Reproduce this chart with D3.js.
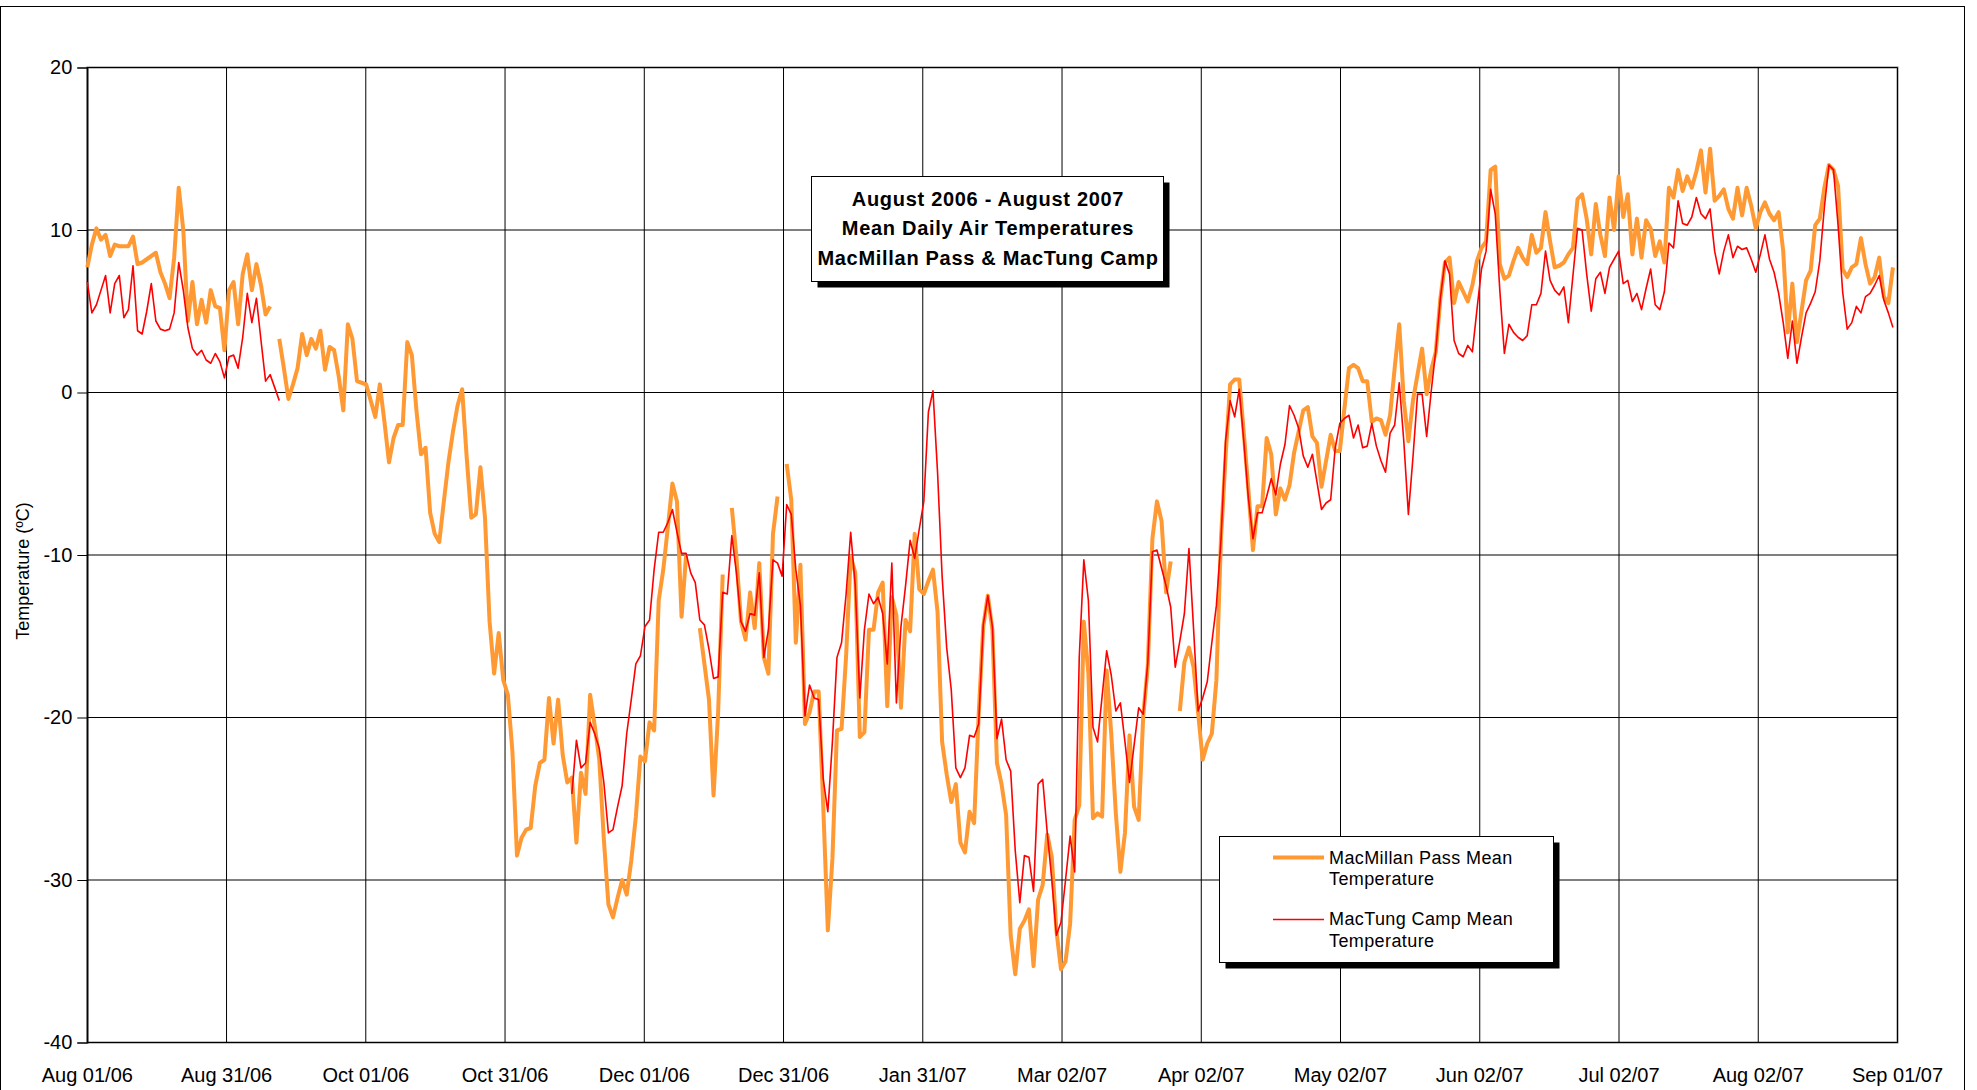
<!DOCTYPE html>
<html>
<head>
<meta charset="utf-8">
<title>August 2006 - August 2007 Mean Daily Air Temperatures</title>
<script src="https://d3js.org/d3.v7.min.js"></script>
<style>
  body { margin: 0; background: #fff; }
  svg { display: block; font-family: "Liberation Sans", Arial, sans-serif; }
  .grid line { stroke: #000; stroke-width: 1; }
  .tick-label { font-size: 20px; fill: #000; }
</style>
</head>
<body>
<div id="chart"></div>
<script>
// daily means, first value is Aug 01 2006, null = no record
const startDate = Date.UTC(2006, 7, 1);
const endDate = Date.UTC(2007, 8, 1);

const xTickLabels = ["Aug 01/06", "Aug 31/06", "Oct 01/06", "Oct 31/06", "Dec 01/06", "Dec 31/06",
  "Jan 31/07", "Mar 02/07", "Apr 02/07", "May 02/07", "Jun 02/07", "Jul 02/07", "Aug 02/07", "Sep 01/07"];
const yTicks = [20, 10, 0, -10, -20, -30, -40];
const titleLines = ["August 2006 - August 2007", "Mean Daily Air Temperatures", "MacMillan Pass & MacTung Camp"];
const seriesNames = [["MacMillan Pass Mean", "Temperature"], ["MacTung Camp Mean", "Temperature"]];

const macMillanPass = [
  7.7, 9.1, 10.1, 9.4, 9.7, 8.4, 9.1, 9.0, 9.0, 9.0,
  9.6, 7.9, 8.0, 8.2, 8.4, 8.6, 7.4, 6.7, 5.8, 8.3,
  12.6, 10.0, 4.4, 6.8, 4.2, 5.7, 4.3, 6.3, 5.3, 5.2,
  2.6, 6.3, 6.8, 4.2, 7.3, 8.5, 6.3, 7.9, 6.6, 4.8,
  5.3, null, 3.3, 1.5, -0.4, 0.5, 1.5, 3.6, 2.3, 3.3,
  2.7, 3.8, 1.4, 2.8, 2.6, 1.0, -1.1, 4.2, 3.3, 0.7,
  0.6, 0.5, -0.5, -1.5, 0.5, -1.8, -4.3, -2.8, -2.0, -2.0,
  3.1, 2.3, -1.1, -3.8, -3.4, -7.4, -8.7, -9.2, -6.7, -4.3,
  -2.4, -0.8, 0.2, -4.0, -7.7, -7.5, -4.6, -7.7, -14.1, -17.3,
  -14.8, -17.7, -18.6, -22.1, -28.5, -27.4, -26.9, -26.8, -24.2, -22.8,
  -22.6, -18.8, -21.6, -18.9, -22.3, -24.0, -23.7, -27.7, -23.4, -24.7,
  -18.6, -20.5, -22.6, -27.5, -31.5, -32.3, -31.1, -30.0, -30.9, -28.8,
  -26.1, -22.4, -22.7, -20.3, -20.8, -12.8, -10.9, -8.3, -5.6, -6.7,
  -13.8, -10.0, null, null, -14.5, -16.7, -18.9, -24.8, -19.7, -11.2,
  null, -7.1, -10.1, -14.1, -15.2, -12.3, -14.5, -10.5, -16.3, -17.3,
  -8.7, -6.4, null, -4.4, -6.6, -15.4, -10.6, -20.4, -19.7, -18.4,
  -18.4, -25.5, -33.1, -28.7, -20.8, -20.7, -16.2, -10.1, -11.1, -21.2,
  -20.9, -14.6, -14.6, -12.3, -11.7, -19.3, -12.6, -13.7, -19.4, -14.0,
  -14.7, -8.7, -12.1, -12.4, -11.6, -10.9, -13.5, -21.5, -23.5, -25.2,
  -24.1, -27.7, -28.3, -25.8, -26.5, -19.8, -14.4, -12.5, -14.6, -22.8,
  -24.1, -26.0, -33.4, -35.8, -33.0, -32.5, -31.8, -35.3, -31.2, -30.3,
  -27.2, -28.6, -33.1, -35.5, -35.0, -32.7, -26.3, -25.4, -14.1, -17.3,
  -26.2, -25.9, -26.1, -17.1, -21.0, -25.9, -29.5, -27.1, -21.1, -25.5,
  -26.3, -19.9, -16.8, -9.0, -6.7, -7.9, -12.3, -10.4, null, -19.6,
  -16.6, -15.7, -16.9, -19.7, -22.6, -21.6, -21.0, -17.7, -9.0, -4.0,
  0.5, 0.8, 0.8, -2.5, -6.0, -9.7, -7.0, -7.0, -2.8, -3.8,
  -7.5, -5.9, -6.6, -5.7, -3.7, -2.4, -1.1, -0.9, -2.7, -3.1,
  -5.8, -4.2, -2.6, -3.6, -3.6, -1.0, 1.5, 1.7, 1.5, 0.7,
  0.7, -1.8, -1.6, -1.7, -2.6, -1.4, 1.5, 4.2, -0.5, -3.0,
  -0.5, 1.1, 2.7, -0.1, 1.4, 2.5, 5.8, 8.0, 8.3, 5.5,
  6.8, 6.2, 5.6, 6.6, 8.1, 8.9, 9.3, 13.7, 13.9, 7.9,
  7.0, 7.2, 8.1, 8.9, 8.3, 7.9, 9.7, 8.6, 8.9, 11.1,
  9.3, 7.7, 7.8, 8.0, 8.5, 8.9, 11.9, 12.2, 10.7, 8.5,
  11.6, 9.7, 8.4, 12.0, 10.0, 13.3, 10.8, 12.2, 8.5, 10.7,
  8.3, 10.6, 10.1, 8.4, 9.3, 8.0, 12.6, 12.0, 13.7, 12.4,
  13.3, 12.6, 13.6, 14.9, 12.3, 15.0, 11.8, 12.1, 12.5, 11.3,
  10.7, 12.6, 10.9, 12.6, 11.5, 10.1, 11.1, 11.7, 11.0, 10.6,
  11.1, 8.7, 3.7, 6.7, 3.1, 5.0, 6.9, 7.5, 10.3, 10.7,
  12.6, 14.0, 13.7, 12.7, 7.6, 7.1, 7.7, 7.9, 9.5, 7.9,
  6.7, 7.1, 8.3, 5.9, 5.5, 7.7
];

const macTungCamp = [
  6.8, 4.9, 5.4, 6.3, 7.2, 4.9, 6.7, 7.2, 4.6, 5.1,
  7.8, 3.8, 3.6, 5.0, 6.7, 4.4, 3.9, 3.8, 3.9, 4.9,
  8.0, 6.3, 4.0, 2.7, 2.3, 2.6, 2.0, 1.8, 2.4, 1.9,
  0.9, 2.2, 2.3, 1.5, 3.4, 6.1, 4.3, 5.8, 3.2, 0.7,
  1.1, 0.3, -0.5, null, null, null, null, null, null, null,
  null, null, null, null, null, null, null, null, null, null,
  null, null, null, null, null, null, null, null, null, null,
  null, null, null, null, null, null, null, null, null, null,
  null, null, null, null, null, null, null, null, null, null,
  null, null, null, null, null, null, null, null, null, null,
  null, null, null, null, null, null, -24.7, -21.4, -23.1, -22.8,
  -20.3, -21.0, -21.9, -24.0, -27.1, -26.9, -25.5, -24.2, -21.0, -18.9,
  -16.7, -16.2, -14.4, -14.0, -10.9, -8.6, -8.6, -8.0, -7.2, -8.6,
  -9.9, -9.9, -11.1, -11.7, -14.0, -14.3, -15.8, -17.6, -17.5, -12.3,
  -12.4, -8.8, -11.1, -14.1, -14.7, -13.6, -13.7, -11.1, -16.3, -14.6,
  -10.3, -10.5, -11.3, -6.9, -7.5, -10.9, -13.1, -19.9, -18.0, -18.8,
  -18.9, -23.8, -25.8, -21.5, -16.3, -15.4, -12.4, -8.6, -11.9, -18.8,
  -14.6, -12.4, -13.0, -12.6, -13.6, -16.7, -10.5, -19.1, -14.4, -11.9,
  -9.1, -10.2, -8.4, -6.7, -1.2, 0.1, -4.9, -11.3, -15.7, -18.3,
  -23.1, -23.7, -23.1, -21.1, -21.2, -20.4, -14.3, -12.5, -14.4, -21.3,
  -20.1, -22.6, -23.3, -28.2, -31.4, -28.5, -28.6, -30.7, -24.1, -23.8,
  -27.1, -30.0, -33.4, -32.6, -30.0, -27.3, -29.5, -16.3, -10.3, -12.8,
  -20.6, -21.5, -18.7, -15.9, -17.4, -19.6, -19.1, -21.5, -24.0, -21.7,
  -19.4, -19.8, -16.6, -9.8, -9.7, -10.8, -11.9, -13.2, -16.9, -15.3,
  -13.6, -9.6, -14.5, -19.6, -18.8, -17.8, -15.4, -13.1, -9.1, -3.0,
  -0.5, -1.5, 0.2, -3.0, -6.5, -9.0, -7.4, -7.4, -6.4, -5.3,
  -6.3, -4.4, -3.2, -0.8, -1.4, -2.2, -3.9, -4.6, -3.8, -5.5,
  -7.2, -6.8, -6.6, -3.4, -1.9, -1.6, -1.4, -2.8, -2.0, -3.4,
  -3.3, -1.9, -3.3, -4.2, -4.9, -2.5, -2.0, 0.6, -3.0, -7.5,
  -4.0, -0.1, -0.1, -2.7, 0.1, 2.6, 5.8, 8.1, 7.3, 3.2,
  2.4, 2.2, 2.9, 2.5, 5.1, 7.6, 8.7, 12.5, 11.0, 6.3,
  2.4, 4.2, 3.7, 3.4, 3.2, 3.5, 5.4, 5.4, 6.1, 8.7,
  6.9, 6.3, 6.0, 6.5, 4.3, 7.2, 10.1, 10.0, 7.3, 5.0,
  7.0, 7.4, 6.1, 7.7, 8.2, 8.7, 6.7, 6.9, 5.6, 6.1,
  5.1, 6.4, 7.6, 5.4, 5.1, 6.2, 9.2, 8.9, 11.8, 10.4,
  10.3, 10.8, 12.0, 11.0, 10.7, 11.3, 8.7, 7.3, 8.7, 9.7,
  8.3, 9.0, 8.8, 8.9, 8.2, 7.4, 8.5, 9.7, 8.2, 7.4,
  6.1, 4.3, 2.1, 4.4, 1.8, 3.4, 4.9, 5.5, 6.2, 8.1,
  11.4, 14.0, 13.7, 10.3, 6.2, 3.9, 4.3, 5.3, 4.9, 5.9,
  6.1, 6.6, 7.2, 5.7, 4.9, 4.0
];

const width = 1977;
const height = 1090;
const plot = { left: 87.3, right: 1897.5, top: 67.5, bottom: 1042.5 };

const svg = d3.select("#chart")
  .append("svg")
  .attr("width", width)
  .attr("height", height);

svg.append("rect").attr("width", width).attr("height", height).attr("fill", "#fff");

// outer chart frame
svg.append("rect")
  .attr("x", 0.5).attr("y", 6.5)
  .attr("width", 1964).attr("height", 1100)
  .attr("fill", "none").attr("stroke", "#000").attr("stroke-width", 1);

const x = d3.scaleUtc().domain([new Date(startDate), new Date(endDate)]).range([plot.left, plot.right]);
const y = d3.scaleLinear().domain([-40, 20]).range([plot.bottom, plot.top]);
const dayOf = i => d3.utcDay.offset(new Date(startDate), i);

// Excel spaces the date gridlines evenly over the axis
const gridDates = d3.range(xTickLabels.length)
  .map(i => new Date(startDate + i * (endDate - startDate) / (xTickLabels.length - 1)));

// plot area border
svg.append("rect")
  .attr("x", plot.left).attr("y", plot.top)
  .attr("width", plot.right - plot.left).attr("height", plot.bottom - plot.top)
  .attr("fill", "none").attr("stroke", "#808080").attr("stroke-width", 2);

const grid = svg.append("g").attr("class", "grid");
grid.selectAll("line.h")
  .data(yTicks)
  .enter().append("line")
  .attr("class", "h")
  .attr("x1", plot.left).attr("x2", plot.right)
  .attr("y1", d => y(d)).attr("y2", d => y(d));
grid.selectAll("line.v")
  .data(gridDates)
  .enter().append("line")
  .attr("class", "v")
  .attr("x1", d => x(d)).attr("x2", d => x(d))
  .attr("y1", plot.top).attr("y2", plot.bottom);

// y axis with outside ticks; plain hyphen for negatives like the original
const yAxis = d3.axisLeft(y).tickValues(yTicks).tickSize(10).tickPadding(5).tickFormat(d => String(d));
svg.append("g")
  .attr("transform", `translate(${plot.left},0)`)
  .call(yAxis)
  .call(g => g.select(".domain").attr("stroke", "#000").attr("stroke-width", 1.2))
  .call(g => g.selectAll(".tick line").attr("stroke", "#000"))
  .call(g => g.selectAll(".tick text")
    .attr("class", "tick-label")
    .attr("font-family", "Liberation Sans, Arial, sans-serif")
    .attr("font-size", 20)
    .attr("fill", "#000"));

// x axis line + labels
svg.append("line")
  .attr("x1", plot.left).attr("x2", plot.right)
  .attr("y1", plot.bottom).attr("y2", plot.bottom)
  .attr("stroke", "#000").attr("stroke-width", 1.2);

svg.append("g")
  .selectAll("text")
  .data(gridDates)
  .enter().append("text")
  .attr("class", "tick-label")
  .attr("x", d => x(d))
  .attr("y", 1081.5)
  .attr("text-anchor", "middle")
  .text((d, i) => xTickLabels[i]);

svg.append("text")
  .attr("transform", "translate(23,571) rotate(-90)")
  .attr("text-anchor", "middle")
  .attr("dominant-baseline", "central")
  .attr("font-size", 18)
  .text("Temperature (ºC)");

// series
const line = d3.line()
  .defined(d => d != null)
  .x((d, i) => x(dayOf(i)))
  .y(d => y(d));

function drawSeries(values, color, w) {
  svg.append("path")
    .datum(values)
    .attr("fill", "none")
    .attr("stroke", color)
    .attr("stroke-width", w)
    .attr("stroke-linejoin", "round")
    .attr("d", line);
}
drawSeries(macMillanPass, "#FF9933", 4);
drawSeries(macTungCamp, "#FF0000", 1.6);

// shadowed box helper
function shadowBox(x0, y0, w, h) {
  svg.append("rect").attr("x", x0 + 6).attr("y", y0 + 6).attr("width", w).attr("height", h).attr("fill", "#000");
  svg.append("rect").attr("x", x0).attr("y", y0).attr("width", w).attr("height", h)
    .attr("fill", "#fff").attr("stroke", "#000").attr("stroke-width", 1);
}

// title
shadowBox(811.5, 176.5, 352, 105);
svg.append("g")
  .selectAll("text")
  .data(titleLines)
  .enter().append("text")
  .attr("x", 988)
  .attr("y", (d, i) => 205.5 + i * 29.8)
  .attr("text-anchor", "middle")
  .attr("font-size", 20)
  .attr("font-weight", "bold")
  .attr("letter-spacing", 0.7)
  .text(d => d);

// legend
shadowBox(1219.5, 836.5, 334, 126);
const legendItems = [
  { color: "#FF9933", w: 4, ly: 857.5, lines: seriesNames[0], ty: 863.5 },
  { color: "#FF0000", w: 1.6, ly: 919.5, lines: seriesNames[1], ty: 925 }
];
legendItems.forEach(item => {
  svg.append("line")
    .attr("x1", 1273).attr("x2", 1324)
    .attr("y1", item.ly).attr("y2", item.ly)
    .attr("stroke", item.color).attr("stroke-width", item.w);
  item.lines.forEach((t, j) => {
    svg.append("text")
      .attr("x", 1329)
      .attr("y", item.ty + j * 21.5)
      .attr("font-size", 18)
      .attr("letter-spacing", 0.4)
      .text(t);
  });
});
</script>
</body>
</html>
